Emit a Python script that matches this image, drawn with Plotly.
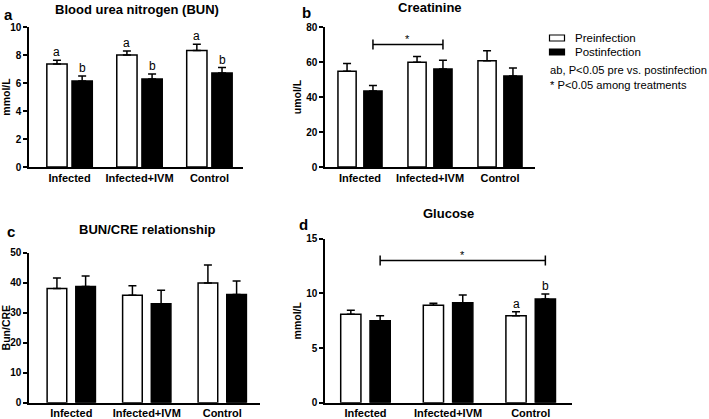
import plotly.graph_objects as go

W, H = 709, 419

categories = ["Infected", "Infected+IVM", "Control"]
series_names = ["Preinfection", "Postinfection"]
series_fills = ["white", "black"]

# Blood urea nitrogen (mmol/L)
bun_pre = [7.36, 8.00, 8.33]
bun_pre_sem = [0.26, 0.29, 0.43]
bun_post = [6.14, 6.29, 6.71]
bun_post_sem = [0.36, 0.35, 0.39]
bun_pre_letters = ["a", "a", "a"]
bun_post_letters = ["b", "b", "b"]

# Creatinine (umol/L)
cre_pre = [54.7, 59.8, 60.7]
cre_pre_sem = [4.5, 3.4, 5.8]
cre_post = [43.4, 56.0, 52.0]
cre_post_sem = [3.1, 5.0, 4.6]

# BUN/CRE relationship
ratio_pre = [38.1, 35.8, 39.9]
ratio_pre_sem = [3.5, 3.2, 6.0]
ratio_post = [38.7, 33.0, 36.1]
ratio_post_sem = [3.5, 4.5, 4.5]

# Glucose (mmol/L)
glu_pre = [8.09, 8.91, 7.96]
glu_pre_sem = [0.36, 0.18, 0.37]
glu_post = [7.50, 9.15, 9.49]
glu_post_sem = [0.46, 0.70, 0.45]
glu_pre_letters = ["", "", "a"]
glu_post_letters = ["", "", "b"]

# significance brackets: (from category, to category, height)
cre_sig = ("Infected", "Infected+IVM", 70)
glu_sig = ("Infected", "Control", 13)

notes = ["ab, P&lt;0.05 pre vs. postinfection", "* P&lt;0.05 among treatments"]

FONT = "Arial, Liberation Sans, Helvetica, sans-serif"


def px_x(a, b):
    return [a / W, b / W]


def px_y(top, bottom):
    return [1 - bottom / H, 1 - top / H]


panels = [
    dict(key="", pre=bun_pre, pre_sem=bun_pre_sem, post=bun_post, post_sem=bun_post_sem,
         yr=[0, 10], dtick=2, xr=[-0.58, 2.48], dx=px_x(29, 243), dy=px_y(27, 167),
         ytitle="mmol/L", w=0.29, g=0.07, lab_stand=0,
         pre_let=bun_pre_letters, post_let=bun_post_letters, sig=None),
    dict(key="2", pre=cre_pre, pre_sem=cre_pre_sem, post=cre_post, post_sem=cre_post_sem,
         yr=[0, 80], dtick=20, xr=[-0.5, 2.5], dx=px_x(325, 535), dy=px_y(27, 167),
         ytitle="umol/L", w=0.26, g=0.11, lab_stand=0,
         pre_let=None, post_let=None, sig=cre_sig),
    dict(key="3", pre=ratio_pre, pre_sem=ratio_pre_sem, post=ratio_post, post_sem=ratio_post_sem,
         yr=[0, 50], dtick=10, xr=[-0.56, 2.5], dx=px_x(29, 260), dy=px_y(252.7, 402.7),
         ytitle="Bun/CRE", w=0.26, g=0.12, lab_stand=-1,
         pre_let=None, post_let=None, sig=None),
    dict(key="4", pre=glu_pre, pre_sem=glu_pre_sem, post=glu_post, post_sem=glu_post_sem,
         yr=[0, 15], dtick=5, xr=[-0.49, 2.5], dx=px_x(325, 572), dy=px_y(238.7, 402.7),
         ytitle="mmol/L", w=0.245, g=0.11, lab_stand=-1,
         pre_let=glu_pre_letters, post_let=glu_post_letters, sig=glu_sig),
]

fig = go.Figure()
annotations = []
shapes = []

for pi, p in enumerate(panels):
    xa = "x" + p["key"]
    ya = "y" + p["key"]
    w, g = p["w"], p["g"]
    pre_off = -(w + g / 2)
    post_off = g / 2
    pre_c = pre_off + w / 2
    post_c = post_off + w / 2
    for name, vals, sem, off, fill in [
        (series_names[0], p["pre"], p["pre_sem"], pre_off, series_fills[0]),
        (series_names[1], p["post"], p["post_sem"], post_off, series_fills[1]),
    ]:
        fig.add_trace(go.Bar(
            x=categories, y=vals, name=name, xaxis=xa, yaxis=ya,
            width=w, offset=off,
            marker=dict(color=fill, line=dict(color="black", width=1.5)),
            error_y=dict(type="data", array=sem, arrayminus=[0] * len(sem),
                         symmetric=False, color="black", thickness=1.5, width=4),
            showlegend=False, legendgroup=name,
        ))
    for lets, vals, sem, c in [(p["pre_let"], p["pre"], p["pre_sem"], pre_c),
                               (p["post_let"], p["post"], p["post_sem"], post_c)]:
        if not lets:
            continue
        for i, t in enumerate(lets):
            if not t:
                continue
            annotations.append(dict(
                x=i + c, y=vals[i] + sem[i], xref=xa, yref=ya, text=t,
                showarrow=False, yanchor="bottom", yshift=-1,
                font=dict(family=FONT, size=12, color="black")))
    if p["sig"]:
        a, b, h = p["sig"]
        x0 = categories.index(a) + post_c
        x1 = categories.index(b) + post_c
        shapes.append(dict(type="line", xref=xa, yref=ya, x0=x0, x1=x1, y0=h, y1=h,
                           line=dict(color="black", width=1.5)))
        for xx in (x0, x1):
            shapes.append(dict(type="line", xref=xa, yref=ya, x0=xx, x1=xx,
                               ysizemode="pixel", yanchor=h, y0=-5, y1=5,
                               line=dict(color="black", width=1.5)))
        annotations.append(dict(x=(x0 + x1) / 2, y=h, xref=xa, yref=ya, text="*",
                                showarrow=False, yanchor="bottom", yshift=-2,
                                font=dict(family=FONT, size=11, color="black")))

    fig.update_layout(**{
        "xaxis" + p["key"]: dict(
            domain=p["dx"], anchor=ya, range=p["xr"], type="category",
            showline=True, linecolor="black", linewidth=1.5, ticks="",
            showgrid=False, zeroline=False, automargin=False,
            tickfont=dict(family=FONT, size=11, color="black"),
            ticklabelstandoff=p["lab_stand"],
            tickvals=categories, ticktext=["<b>%s</b>" % c for c in categories],
        ),
        "yaxis" + p["key"]: dict(
            domain=p["dy"], anchor=xa, range=p["yr"], dtick=p["dtick"],
            showline=True, linecolor="black", linewidth=1.5,
            ticks="outside", ticklen=4, tickwidth=1.5, tickcolor="black",
            showgrid=False, zeroline=False, automargin=False,
            tickfont=dict(family=FONT, size=10, color="black"),
            tickprefix="<b>", ticksuffix="</b>",
            title=dict(text="<b>%s</b>" % p["ytitle"], standoff=2,
                       font=dict(family=FONT, size=10.5, color="black")),
        ),
    })


def pa(x, y, text, size, bold=True, anchor="center"):
    annotations.append(dict(x=x / W, y=1 - y / H, xref="paper", yref="paper",
                            text=("<b>%s</b>" % text) if bold else text,
                            showarrow=False, xanchor=anchor, yanchor="middle",
                            font=dict(family=FONT, size=size, color="black")))


pa(137, 9, "Blood urea nitrogen (BUN)", 13)
pa(430, 8, "Creatinine", 13)
pa(147, 230, "BUN/CRE relationship", 13)
pa(448, 214, "Glucose", 13)
pa(8, 14, "a", 15)
pa(306, 12, "b", 15)
pa(11, 231, "c", 15)
pa(303, 224, "d", 15)

# legend (swatches + labels)
for i, (name, fill) in enumerate(zip(series_names, series_fills)):
    yc = 38 + 14 * i
    shapes.append(dict(type="rect", xref="paper", yref="paper",
                       x0=549.5 / W, x1=564.5 / W, y0=1 - (yc + 3) / H, y1=1 - (yc - 3) / H,
                       fillcolor=fill, line=dict(color="black", width=1.2)))
    pa(573, yc, name, 11.5, bold=False, anchor="left")

for i, t in enumerate(notes):
    pa(548, 70 + 15 * i, t, 11.2, bold=False, anchor="left")

fig.update_layout(
    width=W, height=H,
    margin=dict(l=0, r=0, t=0, b=0),
    paper_bgcolor="white", plot_bgcolor="white",
    barmode="overlay",
    showlegend=False,
    annotations=annotations, shapes=shapes,
)

fig.write_html("out.html", config={"displayModeBar": False},
               post_script="document.body.style.margin='0px';")
